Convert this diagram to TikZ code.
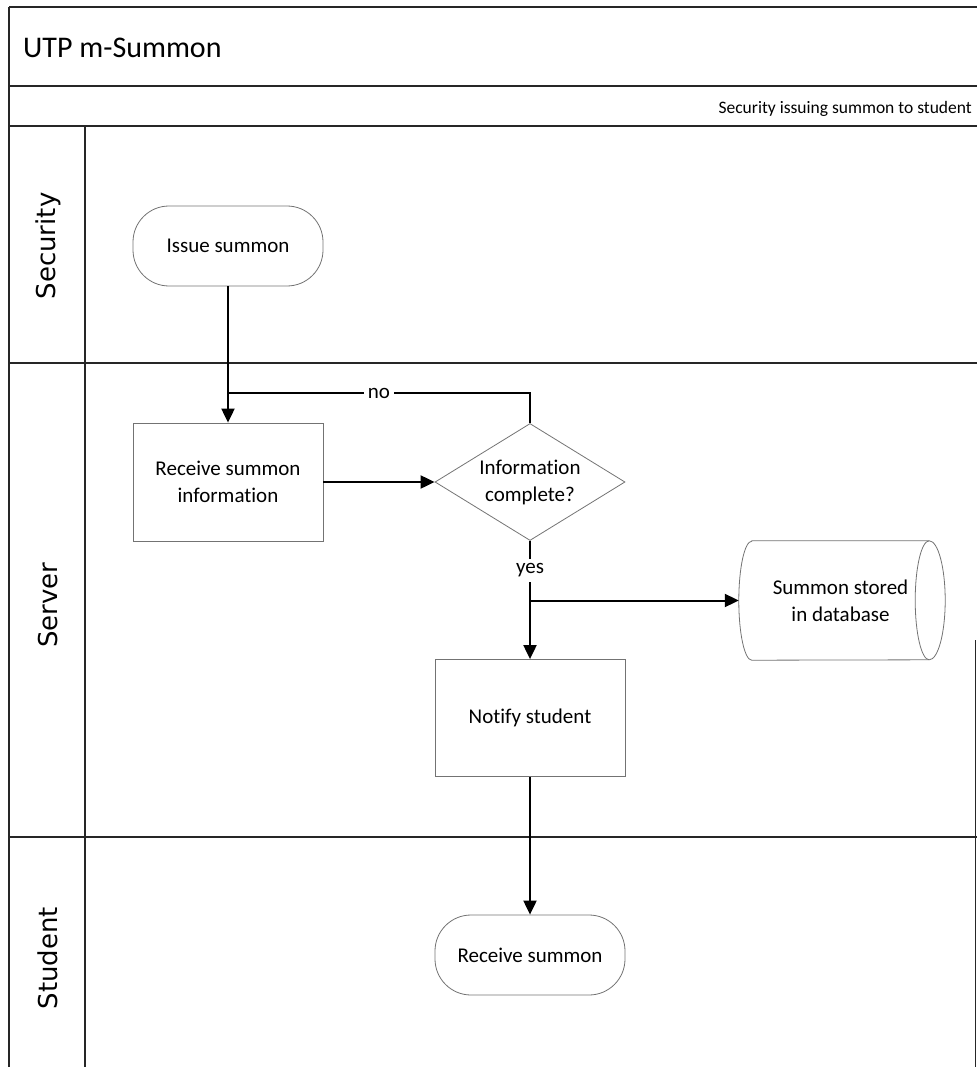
\documentclass[tikz,border=0pt]{standalone}
\usepackage{fontspec}
\setmainfont{Carlito}[Ligatures={NoCommon}]
\newfontfamily\lanefont{DejaVu Sans}
\usetikzlibrary{arrows.meta,calc,shapes.geometric}
\begin{document}
\begin{tikzpicture}[x=1pt,y=1pt,
  lane/.style={line width=1.6pt,black!85},
  border/.style={draw=black!55,line width=0.8pt},
  box/.style={border,rectangle,minimum width=190pt,minimum height=118pt,align=center,font=\fontsize{21}{27}\selectfont,inner sep=0pt},
  term/.style={border,rectangle,rounded corners=36pt,minimum width=190pt,minimum height=80pt,align=center,font=\fontsize{21}{27}\selectfont,inner sep=0pt},
  dec/.style={border,diamond,aspect=1.62,minimum width=190pt,minimum height=117pt,align=center,font=\fontsize{21}{27}\selectfont,inner sep=0pt},
  arr/.style={line width=2pt,black,-{Triangle[length=14pt,width=13pt]}},
  con/.style={line width=2pt,black},
  lbl/.style={fill=white,inner xsep=4pt,inner ysep=5pt,font=\fontsize{21}{25}\selectfont},
  lanelbl/.style={rotate=90,font=\lanefont\fontsize{26}{30}\selectfont}
]
\useasboundingbox (0,0) rectangle (977,-1067);
% frame and lanes
\draw[lane] (9,-7) -- (977,-7);
\draw[lane] (9,-86) -- (977,-86);
\draw[lane] (9,-126) -- (977,-126);
\draw[lane] (9,-363) -- (977,-363);
\draw[lane] (9,-837) -- (977,-837);
\draw[lane] (9,-7) -- (9,-1067);
\draw[lane] (85,-126) -- (85,-1067);
\draw[lane,line width=1pt] (975,-640) -- (975,-1067);
% header texts
\node[anchor=base west,font=\fontsize{30}{36}\selectfont,inner sep=0pt] (title) at (23,-58) {UTP m-Summon};
\node[anchor=base east,font=\fontsize{17.5}{21}\selectfont,inner sep=0pt] (sub) at (972,-114) {Security issuing summon to student};
\node[lanelbl] (lsec) at (48,-246) {Security};
\node[lanelbl] (lser) at (48,-605) {Server};
\node[lanelbl] (lstu) at (48,-958) {Student};
% nodes
\node[term] (issue) at (228,-246) {Issue summon};
\node[box] (rinfo) at (228,-482) {Receive summon\\information};
\node[dec] (dia) at (530,-482) {Information\\complete?};
\node[box,minimum height=117pt] (notify) at (530,-718) {Notify student};
\node[term] (recv) at (530,-955) {Receive summon};
\node[inner sep=0pt,minimum width=177pt,minimum height=119pt,align=center,font=\fontsize{21}{27}\selectfont] (db) at (840.5,-600.5) {Summon stored\\in database};
\draw[border] (db.north west) -- (db.north east) arc[start angle=90,end angle=-90,x radius=16pt,y radius=59.5pt] -- (db.south west) arc[start angle=270,end angle=90,x radius=13pt,y radius=59.5pt] -- cycle;
\draw[border] (db.north east) arc[start angle=90,end angle=270,x radius=14pt,y radius=59.5pt];
\coordinate (dbin) at ($(db.west)+(-13pt,0)$);
% connectors
\draw[arr] (issue.south) -- (rinfo.north);
\coordinate (noc) at ($(dia.north)+(0,30pt)$);
\coordinate (nol) at (issue.south |- noc);
\draw[con] (dia.north) -- (noc) -- node[lbl]{no} (nol);
\draw[arr] (rinfo.east) -- (dia.west);
\draw[arr] (dia.south) -- node[lbl,pos=0.25]{yes} (notify.north);
\coordinate (br) at (notify.north |- dbin);
\draw[arr] (br) -- (dbin);
\draw[arr] (notify.south) -- (recv.north);
\end{tikzpicture}
\end{document}
